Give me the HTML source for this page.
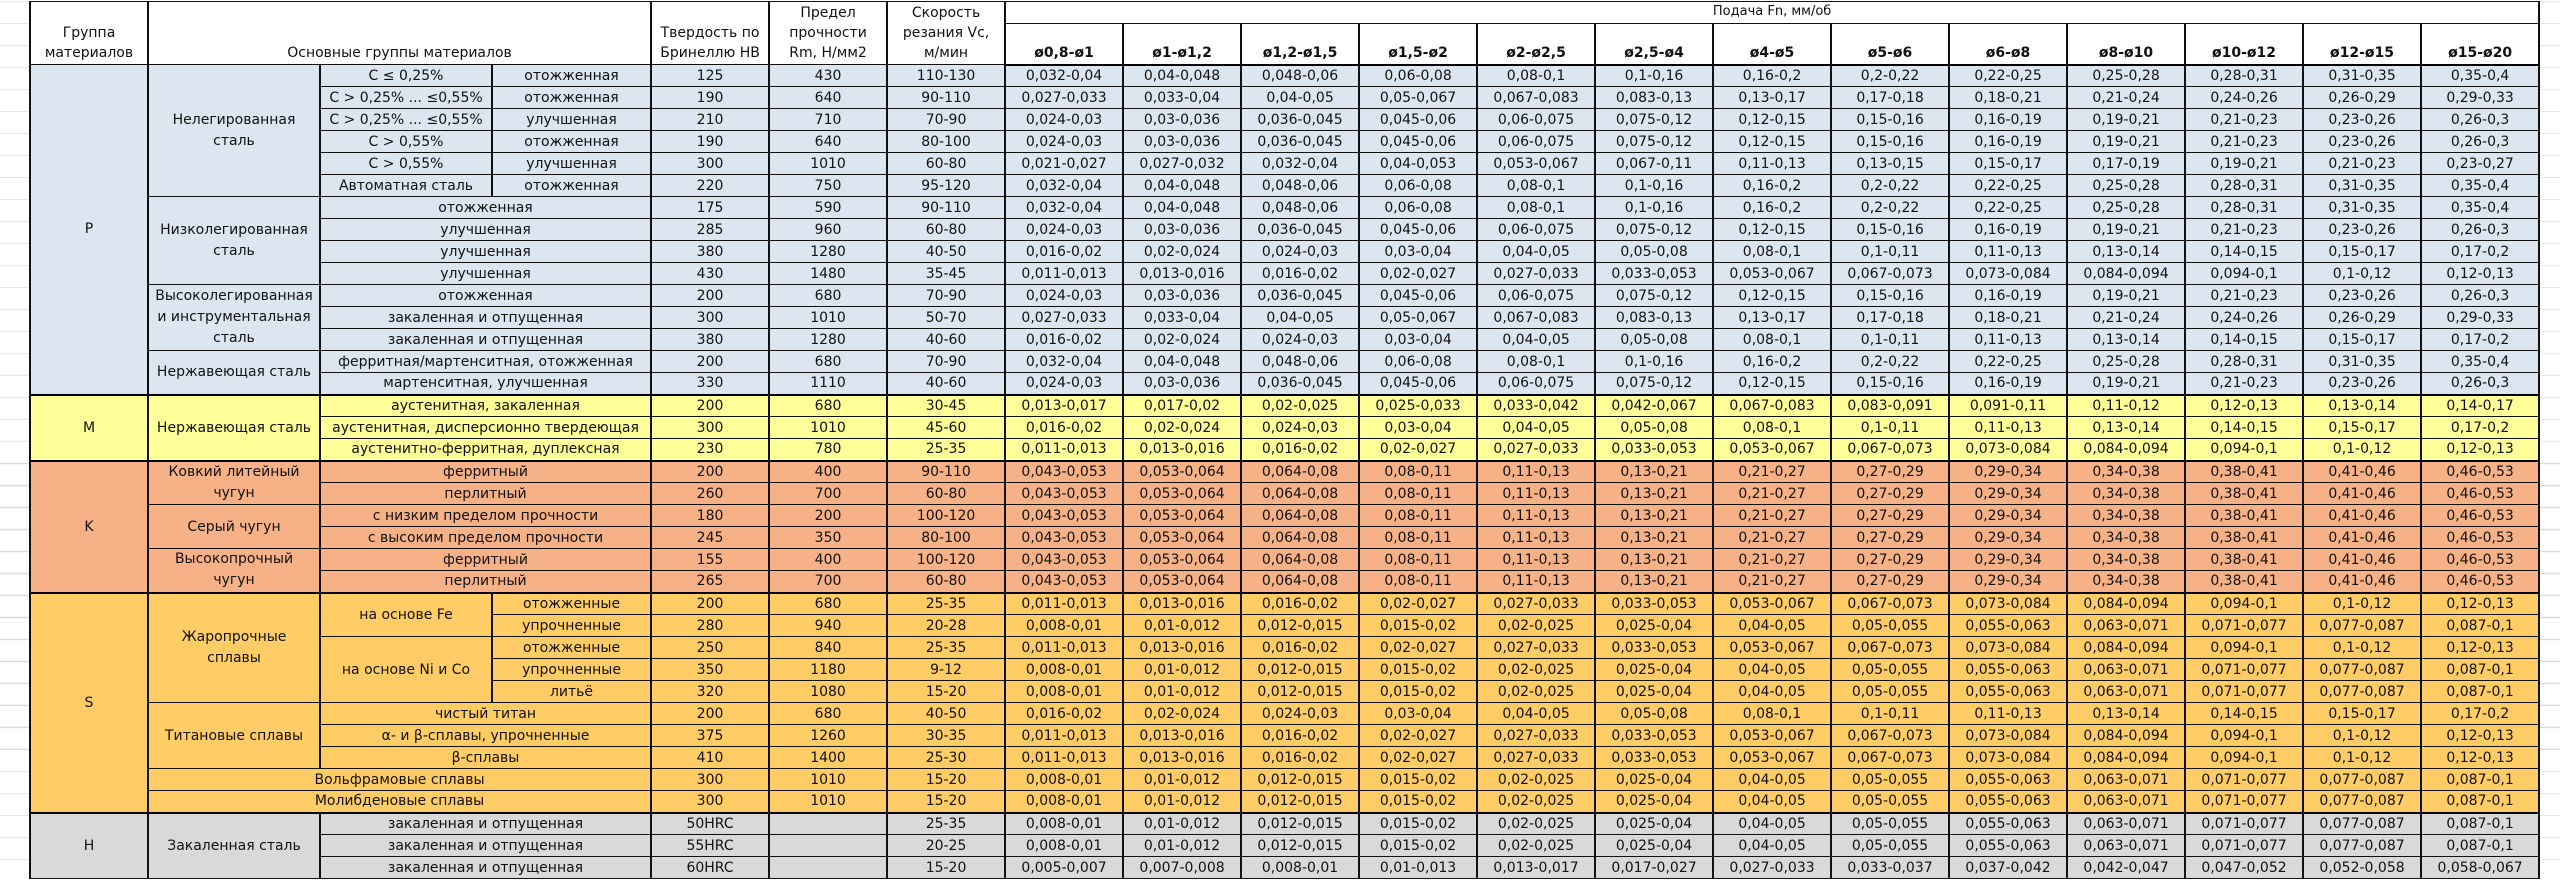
<!DOCTYPE html>
<html><head><meta charset="utf-8">
<style>
html,body{margin:0;padding:0;}
body{width:2560px;height:880px;overflow:hidden;position:relative;background:#fff;
 background-image:repeating-linear-gradient(to bottom,transparent 0,transparent 21px,#dcdcdc 21px,#dcdcdc 22px);background-position:0 2px;}
table{position:absolute;left:29px;top:1px;border-collapse:collapse;table-layout:fixed;width:2509px;
 font-family:"DejaVu Sans","Liberation Sans",sans-serif;font-size:14px;color:#111;background:#fff;}
tr{height:22px;}
td{border-top:1px solid #111;border-bottom:1px solid #111;border-left:2px solid #111;border-right:2px solid #111;
 padding:0 1px;text-align:center;vertical-align:middle;white-space:nowrap;overflow:hidden;line-height:18px;}
td.ml{line-height:21px;}
tr.hd td{vertical-align:bottom;background:#fff;line-height:20px;padding-bottom:1px;}
tr.hd2 td{font-weight:bold;}
tr.p td{background:#dce6f1;}
tr.m td{background:#ffff99;}
tr.k td{background:#f6b187;}
tr.s td{background:#ffcc66;}
tr.h td{background:#d9d9d9;}
tr.g td{border-top:2px solid #000;}
tr.hd2 td{border-bottom:2px solid #000;}
</style></head><body>
<table>
<colgroup><col style="width:118px"><col style="width:172px"><col style="width:172px"><col style="width:159px"><col style="width:118px"><col style="width:118px"><col style="width:118px">
<col style="width:118px"><col style="width:118px"><col style="width:118px"><col style="width:118px"><col style="width:118px"><col style="width:118px"><col style="width:118px"><col style="width:118px"><col style="width:118px"><col style="width:118px"><col style="width:118px"><col style="width:118px"><col style="width:118px"></colgroup>
<tr class="hd" style="height:21px"><td rowspan="2">Группа<br>материалов</td><td rowspan="2" colspan="3">Основные группы материалов</td><td rowspan="2">Твердость по<br>Бринеллю НВ</td><td rowspan="2">Предел<br>прочности<br>Rm, Н/мм2</td><td rowspan="2">Скорость<br>резания Vc,<br>м/мин</td><td colspan="13" style="vertical-align:middle;font-size:13px">Подача Fn, мм/об</td></tr>
<tr class="hd hd2" style="height:41px"><td>ø0,8-ø1</td><td>ø1-ø1,2</td><td>ø1,2-ø1,5</td><td>ø1,5-ø2</td><td>ø2-ø2,5</td><td>ø2,5-ø4</td><td>ø4-ø5</td><td>ø5-ø6</td><td>ø6-ø8</td><td>ø8-ø10</td><td>ø10-ø12</td><td>ø12-ø15</td><td>ø15-ø20</td></tr>

<tr class="p"><td rowspan="15">P</td><td rowspan="6" class="ml">Нелегированная<br>сталь</td><td>C ≤ 0,25%</td><td>отожженная</td><td>125</td><td>430</td><td>110-130</td><td>0,032-0,04</td><td>0,04-0,048</td><td>0,048-0,06</td><td>0,06-0,08</td><td>0,08-0,1</td><td>0,1-0,16</td><td>0,16-0,2</td><td>0,2-0,22</td><td>0,22-0,25</td><td>0,25-0,28</td><td>0,28-0,31</td><td>0,31-0,35</td><td>0,35-0,4</td></tr>
<tr class="p"><td>C &gt; 0,25% ... ≤0,55%</td><td>отожженная</td><td>190</td><td>640</td><td>90-110</td><td>0,027-0,033</td><td>0,033-0,04</td><td>0,04-0,05</td><td>0,05-0,067</td><td>0,067-0,083</td><td>0,083-0,13</td><td>0,13-0,17</td><td>0,17-0,18</td><td>0,18-0,21</td><td>0,21-0,24</td><td>0,24-0,26</td><td>0,26-0,29</td><td>0,29-0,33</td></tr>
<tr class="p"><td>C &gt; 0,25% ... ≤0,55%</td><td>улучшенная</td><td>210</td><td>710</td><td>70-90</td><td>0,024-0,03</td><td>0,03-0,036</td><td>0,036-0,045</td><td>0,045-0,06</td><td>0,06-0,075</td><td>0,075-0,12</td><td>0,12-0,15</td><td>0,15-0,16</td><td>0,16-0,19</td><td>0,19-0,21</td><td>0,21-0,23</td><td>0,23-0,26</td><td>0,26-0,3</td></tr>
<tr class="p"><td>C &gt; 0,55%</td><td>отожженная</td><td>190</td><td>640</td><td>80-100</td><td>0,024-0,03</td><td>0,03-0,036</td><td>0,036-0,045</td><td>0,045-0,06</td><td>0,06-0,075</td><td>0,075-0,12</td><td>0,12-0,15</td><td>0,15-0,16</td><td>0,16-0,19</td><td>0,19-0,21</td><td>0,21-0,23</td><td>0,23-0,26</td><td>0,26-0,3</td></tr>
<tr class="p"><td>C &gt; 0,55%</td><td>улучшенная</td><td>300</td><td>1010</td><td>60-80</td><td>0,021-0,027</td><td>0,027-0,032</td><td>0,032-0,04</td><td>0,04-0,053</td><td>0,053-0,067</td><td>0,067-0,11</td><td>0,11-0,13</td><td>0,13-0,15</td><td>0,15-0,17</td><td>0,17-0,19</td><td>0,19-0,21</td><td>0,21-0,23</td><td>0,23-0,27</td></tr>
<tr class="p"><td>Автоматная сталь</td><td>отожженная</td><td>220</td><td>750</td><td>95-120</td><td>0,032-0,04</td><td>0,04-0,048</td><td>0,048-0,06</td><td>0,06-0,08</td><td>0,08-0,1</td><td>0,1-0,16</td><td>0,16-0,2</td><td>0,2-0,22</td><td>0,22-0,25</td><td>0,25-0,28</td><td>0,28-0,31</td><td>0,31-0,35</td><td>0,35-0,4</td></tr>
<tr class="p"><td rowspan="4" class="ml">Низколегированная<br>сталь</td><td colspan="2">отожженная</td><td>175</td><td>590</td><td>90-110</td><td>0,032-0,04</td><td>0,04-0,048</td><td>0,048-0,06</td><td>0,06-0,08</td><td>0,08-0,1</td><td>0,1-0,16</td><td>0,16-0,2</td><td>0,2-0,22</td><td>0,22-0,25</td><td>0,25-0,28</td><td>0,28-0,31</td><td>0,31-0,35</td><td>0,35-0,4</td></tr>
<tr class="p"><td colspan="2">улучшенная</td><td>285</td><td>960</td><td>60-80</td><td>0,024-0,03</td><td>0,03-0,036</td><td>0,036-0,045</td><td>0,045-0,06</td><td>0,06-0,075</td><td>0,075-0,12</td><td>0,12-0,15</td><td>0,15-0,16</td><td>0,16-0,19</td><td>0,19-0,21</td><td>0,21-0,23</td><td>0,23-0,26</td><td>0,26-0,3</td></tr>
<tr class="p"><td colspan="2">улучшенная</td><td>380</td><td>1280</td><td>40-50</td><td>0,016-0,02</td><td>0,02-0,024</td><td>0,024-0,03</td><td>0,03-0,04</td><td>0,04-0,05</td><td>0,05-0,08</td><td>0,08-0,1</td><td>0,1-0,11</td><td>0,11-0,13</td><td>0,13-0,14</td><td>0,14-0,15</td><td>0,15-0,17</td><td>0,17-0,2</td></tr>
<tr class="p"><td colspan="2">улучшенная</td><td>430</td><td>1480</td><td>35-45</td><td>0,011-0,013</td><td>0,013-0,016</td><td>0,016-0,02</td><td>0,02-0,027</td><td>0,027-0,033</td><td>0,033-0,053</td><td>0,053-0,067</td><td>0,067-0,073</td><td>0,073-0,084</td><td>0,084-0,094</td><td>0,094-0,1</td><td>0,1-0,12</td><td>0,12-0,13</td></tr>
<tr class="p"><td rowspan="3" class="ml">Высоколегированная<br>и инструментальная<br>сталь</td><td colspan="2">отожженная</td><td>200</td><td>680</td><td>70-90</td><td>0,024-0,03</td><td>0,03-0,036</td><td>0,036-0,045</td><td>0,045-0,06</td><td>0,06-0,075</td><td>0,075-0,12</td><td>0,12-0,15</td><td>0,15-0,16</td><td>0,16-0,19</td><td>0,19-0,21</td><td>0,21-0,23</td><td>0,23-0,26</td><td>0,26-0,3</td></tr>
<tr class="p"><td colspan="2">закаленная и отпущенная</td><td>300</td><td>1010</td><td>50-70</td><td>0,027-0,033</td><td>0,033-0,04</td><td>0,04-0,05</td><td>0,05-0,067</td><td>0,067-0,083</td><td>0,083-0,13</td><td>0,13-0,17</td><td>0,17-0,18</td><td>0,18-0,21</td><td>0,21-0,24</td><td>0,24-0,26</td><td>0,26-0,29</td><td>0,29-0,33</td></tr>
<tr class="p"><td colspan="2">закаленная и отпущенная</td><td>380</td><td>1280</td><td>40-60</td><td>0,016-0,02</td><td>0,02-0,024</td><td>0,024-0,03</td><td>0,03-0,04</td><td>0,04-0,05</td><td>0,05-0,08</td><td>0,08-0,1</td><td>0,1-0,11</td><td>0,11-0,13</td><td>0,13-0,14</td><td>0,14-0,15</td><td>0,15-0,17</td><td>0,17-0,2</td></tr>
<tr class="p"><td rowspan="2">Нержавеющая сталь</td><td colspan="2">ферритная/мартенситная, отожженная</td><td>200</td><td>680</td><td>70-90</td><td>0,032-0,04</td><td>0,04-0,048</td><td>0,048-0,06</td><td>0,06-0,08</td><td>0,08-0,1</td><td>0,1-0,16</td><td>0,16-0,2</td><td>0,2-0,22</td><td>0,22-0,25</td><td>0,25-0,28</td><td>0,28-0,31</td><td>0,31-0,35</td><td>0,35-0,4</td></tr>
<tr class="p"><td colspan="2">мартенситная, улучшенная</td><td>330</td><td>1110</td><td>40-60</td><td>0,024-0,03</td><td>0,03-0,036</td><td>0,036-0,045</td><td>0,045-0,06</td><td>0,06-0,075</td><td>0,075-0,12</td><td>0,12-0,15</td><td>0,15-0,16</td><td>0,16-0,19</td><td>0,19-0,21</td><td>0,21-0,23</td><td>0,23-0,26</td><td>0,26-0,3</td></tr>

<tr class="m g"><td rowspan="3">M</td><td rowspan="3">Нержавеющая сталь</td><td colspan="2">аустенитная, закаленная</td><td>200</td><td>680</td><td>30-45</td><td>0,013-0,017</td><td>0,017-0,02</td><td>0,02-0,025</td><td>0,025-0,033</td><td>0,033-0,042</td><td>0,042-0,067</td><td>0,067-0,083</td><td>0,083-0,091</td><td>0,091-0,11</td><td>0,11-0,12</td><td>0,12-0,13</td><td>0,13-0,14</td><td>0,14-0,17</td></tr>
<tr class="m"><td colspan="2">аустенитная, дисперсионно твердеющая</td><td>300</td><td>1010</td><td>45-60</td><td>0,016-0,02</td><td>0,02-0,024</td><td>0,024-0,03</td><td>0,03-0,04</td><td>0,04-0,05</td><td>0,05-0,08</td><td>0,08-0,1</td><td>0,1-0,11</td><td>0,11-0,13</td><td>0,13-0,14</td><td>0,14-0,15</td><td>0,15-0,17</td><td>0,17-0,2</td></tr>
<tr class="m"><td colspan="2">аустенитно-ферритная, дуплексная</td><td>230</td><td>780</td><td>25-35</td><td>0,011-0,013</td><td>0,013-0,016</td><td>0,016-0,02</td><td>0,02-0,027</td><td>0,027-0,033</td><td>0,033-0,053</td><td>0,053-0,067</td><td>0,067-0,073</td><td>0,073-0,084</td><td>0,084-0,094</td><td>0,094-0,1</td><td>0,1-0,12</td><td>0,12-0,13</td></tr>

<tr class="k g"><td rowspan="6">K</td><td rowspan="2" class="ml">Ковкий литейный<br>чугун</td><td colspan="2">ферритный</td><td>200</td><td>400</td><td>90-110</td><td>0,043-0,053</td><td>0,053-0,064</td><td>0,064-0,08</td><td>0,08-0,11</td><td>0,11-0,13</td><td>0,13-0,21</td><td>0,21-0,27</td><td>0,27-0,29</td><td>0,29-0,34</td><td>0,34-0,38</td><td>0,38-0,41</td><td>0,41-0,46</td><td>0,46-0,53</td></tr>
<tr class="k"><td colspan="2">перлитный</td><td>260</td><td>700</td><td>60-80</td><td>0,043-0,053</td><td>0,053-0,064</td><td>0,064-0,08</td><td>0,08-0,11</td><td>0,11-0,13</td><td>0,13-0,21</td><td>0,21-0,27</td><td>0,27-0,29</td><td>0,29-0,34</td><td>0,34-0,38</td><td>0,38-0,41</td><td>0,41-0,46</td><td>0,46-0,53</td></tr>
<tr class="k"><td rowspan="2">Серый чугун</td><td colspan="2">с низким пределом прочности</td><td>180</td><td>200</td><td>100-120</td><td>0,043-0,053</td><td>0,053-0,064</td><td>0,064-0,08</td><td>0,08-0,11</td><td>0,11-0,13</td><td>0,13-0,21</td><td>0,21-0,27</td><td>0,27-0,29</td><td>0,29-0,34</td><td>0,34-0,38</td><td>0,38-0,41</td><td>0,41-0,46</td><td>0,46-0,53</td></tr>
<tr class="k"><td colspan="2">с высоким пределом прочности</td><td>245</td><td>350</td><td>80-100</td><td>0,043-0,053</td><td>0,053-0,064</td><td>0,064-0,08</td><td>0,08-0,11</td><td>0,11-0,13</td><td>0,13-0,21</td><td>0,21-0,27</td><td>0,27-0,29</td><td>0,29-0,34</td><td>0,34-0,38</td><td>0,38-0,41</td><td>0,41-0,46</td><td>0,46-0,53</td></tr>
<tr class="k"><td rowspan="2" class="ml">Высокопрочный<br>чугун</td><td colspan="2">ферритный</td><td>155</td><td>400</td><td>100-120</td><td>0,043-0,053</td><td>0,053-0,064</td><td>0,064-0,08</td><td>0,08-0,11</td><td>0,11-0,13</td><td>0,13-0,21</td><td>0,21-0,27</td><td>0,27-0,29</td><td>0,29-0,34</td><td>0,34-0,38</td><td>0,38-0,41</td><td>0,41-0,46</td><td>0,46-0,53</td></tr>
<tr class="k"><td colspan="2">перлитный</td><td>265</td><td>700</td><td>60-80</td><td>0,043-0,053</td><td>0,053-0,064</td><td>0,064-0,08</td><td>0,08-0,11</td><td>0,11-0,13</td><td>0,13-0,21</td><td>0,21-0,27</td><td>0,27-0,29</td><td>0,29-0,34</td><td>0,34-0,38</td><td>0,38-0,41</td><td>0,41-0,46</td><td>0,46-0,53</td></tr>

<tr class="s g"><td rowspan="10">S</td><td rowspan="5" class="ml">Жаропрочные<br>сплавы</td><td rowspan="2">на основе Fe</td><td>отожженные</td><td>200</td><td>680</td><td>25-35</td><td>0,011-0,013</td><td>0,013-0,016</td><td>0,016-0,02</td><td>0,02-0,027</td><td>0,027-0,033</td><td>0,033-0,053</td><td>0,053-0,067</td><td>0,067-0,073</td><td>0,073-0,084</td><td>0,084-0,094</td><td>0,094-0,1</td><td>0,1-0,12</td><td>0,12-0,13</td></tr>
<tr class="s"><td>упрочненные</td><td>280</td><td>940</td><td>20-28</td><td>0,008-0,01</td><td>0,01-0,012</td><td>0,012-0,015</td><td>0,015-0,02</td><td>0,02-0,025</td><td>0,025-0,04</td><td>0,04-0,05</td><td>0,05-0,055</td><td>0,055-0,063</td><td>0,063-0,071</td><td>0,071-0,077</td><td>0,077-0,087</td><td>0,087-0,1</td></tr>
<tr class="s"><td rowspan="3">на основе Ni и Co</td><td>отожженные</td><td>250</td><td>840</td><td>25-35</td><td>0,011-0,013</td><td>0,013-0,016</td><td>0,016-0,02</td><td>0,02-0,027</td><td>0,027-0,033</td><td>0,033-0,053</td><td>0,053-0,067</td><td>0,067-0,073</td><td>0,073-0,084</td><td>0,084-0,094</td><td>0,094-0,1</td><td>0,1-0,12</td><td>0,12-0,13</td></tr>
<tr class="s"><td>упрочненные</td><td>350</td><td>1180</td><td>9-12</td><td>0,008-0,01</td><td>0,01-0,012</td><td>0,012-0,015</td><td>0,015-0,02</td><td>0,02-0,025</td><td>0,025-0,04</td><td>0,04-0,05</td><td>0,05-0,055</td><td>0,055-0,063</td><td>0,063-0,071</td><td>0,071-0,077</td><td>0,077-0,087</td><td>0,087-0,1</td></tr>
<tr class="s"><td>литьё</td><td>320</td><td>1080</td><td>15-20</td><td>0,008-0,01</td><td>0,01-0,012</td><td>0,012-0,015</td><td>0,015-0,02</td><td>0,02-0,025</td><td>0,025-0,04</td><td>0,04-0,05</td><td>0,05-0,055</td><td>0,055-0,063</td><td>0,063-0,071</td><td>0,071-0,077</td><td>0,077-0,087</td><td>0,087-0,1</td></tr>
<tr class="s"><td rowspan="3">Титановые сплавы</td><td colspan="2">чистый титан</td><td>200</td><td>680</td><td>40-50</td><td>0,016-0,02</td><td>0,02-0,024</td><td>0,024-0,03</td><td>0,03-0,04</td><td>0,04-0,05</td><td>0,05-0,08</td><td>0,08-0,1</td><td>0,1-0,11</td><td>0,11-0,13</td><td>0,13-0,14</td><td>0,14-0,15</td><td>0,15-0,17</td><td>0,17-0,2</td></tr>
<tr class="s"><td colspan="2">α- и β-сплавы, упрочненные</td><td>375</td><td>1260</td><td>30-35</td><td>0,011-0,013</td><td>0,013-0,016</td><td>0,016-0,02</td><td>0,02-0,027</td><td>0,027-0,033</td><td>0,033-0,053</td><td>0,053-0,067</td><td>0,067-0,073</td><td>0,073-0,084</td><td>0,084-0,094</td><td>0,094-0,1</td><td>0,1-0,12</td><td>0,12-0,13</td></tr>
<tr class="s"><td colspan="2">β-сплавы</td><td>410</td><td>1400</td><td>25-30</td><td>0,011-0,013</td><td>0,013-0,016</td><td>0,016-0,02</td><td>0,02-0,027</td><td>0,027-0,033</td><td>0,033-0,053</td><td>0,053-0,067</td><td>0,067-0,073</td><td>0,073-0,084</td><td>0,084-0,094</td><td>0,094-0,1</td><td>0,1-0,12</td><td>0,12-0,13</td></tr>
<tr class="s"><td colspan="3">Вольфрамовые сплавы</td><td>300</td><td>1010</td><td>15-20</td><td>0,008-0,01</td><td>0,01-0,012</td><td>0,012-0,015</td><td>0,015-0,02</td><td>0,02-0,025</td><td>0,025-0,04</td><td>0,04-0,05</td><td>0,05-0,055</td><td>0,055-0,063</td><td>0,063-0,071</td><td>0,071-0,077</td><td>0,077-0,087</td><td>0,087-0,1</td></tr>
<tr class="s"><td colspan="3">Молибденовые сплавы</td><td>300</td><td>1010</td><td>15-20</td><td>0,008-0,01</td><td>0,01-0,012</td><td>0,012-0,015</td><td>0,015-0,02</td><td>0,02-0,025</td><td>0,025-0,04</td><td>0,04-0,05</td><td>0,05-0,055</td><td>0,055-0,063</td><td>0,063-0,071</td><td>0,071-0,077</td><td>0,077-0,087</td><td>0,087-0,1</td></tr>

<tr class="h g"><td rowspan="3">H</td><td rowspan="3">Закаленная сталь</td><td colspan="2">закаленная и отпущенная</td><td>50HRC</td><td></td><td>25-35</td><td>0,008-0,01</td><td>0,01-0,012</td><td>0,012-0,015</td><td>0,015-0,02</td><td>0,02-0,025</td><td>0,025-0,04</td><td>0,04-0,05</td><td>0,05-0,055</td><td>0,055-0,063</td><td>0,063-0,071</td><td>0,071-0,077</td><td>0,077-0,087</td><td>0,087-0,1</td></tr>
<tr class="h"><td colspan="2">закаленная и отпущенная</td><td>55HRC</td><td></td><td>20-25</td><td>0,008-0,01</td><td>0,01-0,012</td><td>0,012-0,015</td><td>0,015-0,02</td><td>0,02-0,025</td><td>0,025-0,04</td><td>0,04-0,05</td><td>0,05-0,055</td><td>0,055-0,063</td><td>0,063-0,071</td><td>0,071-0,077</td><td>0,077-0,087</td><td>0,087-0,1</td></tr>
<tr class="h"><td colspan="2">закаленная и отпущенная</td><td>60HRC</td><td></td><td>15-20</td><td>0,005-0,007</td><td>0,007-0,008</td><td>0,008-0,01</td><td>0,01-0,013</td><td>0,013-0,017</td><td>0,017-0,027</td><td>0,027-0,033</td><td>0,033-0,037</td><td>0,037-0,042</td><td>0,042-0,047</td><td>0,047-0,052</td><td>0,052-0,058</td><td>0,058-0,067</td></tr>
</table>
</body></html>
